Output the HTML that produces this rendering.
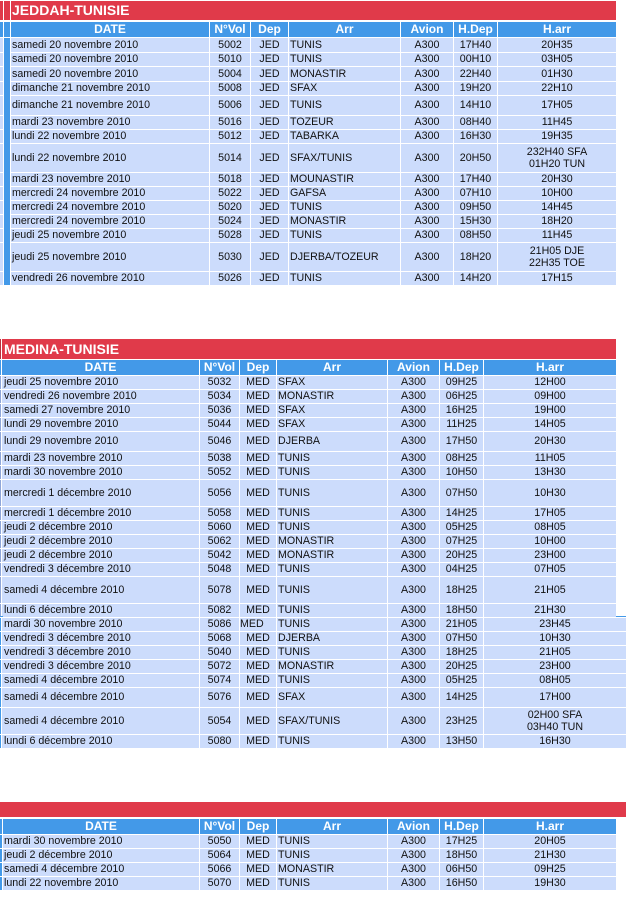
<!DOCTYPE html>
<html><head><meta charset="utf-8"><style>
body{margin:0;width:626px;height:914px;position:relative;background:#fff;overflow:hidden;font-family:"Liberation Sans",Arial,sans-serif}
.r{position:absolute;left:0;width:626px}
.r>span{position:absolute;top:0;height:100%;background:#ccdcfc;color:#111;font-size:10.67px;line-height:12.5px;display:flex;align-items:center;justify-content:center;text-align:center;white-space:nowrap;overflow:hidden}
.r>span.l{justify-content:flex-start;padding-left:1px;box-sizing:border-box}
.r>span em{font-style:normal;display:block}
.h>span{background:#4399e8;color:#fff;font-weight:bold;font-size:12px}
.t>span{background:#e03a4a;color:#fff;font-weight:bold;font-size:14px}
.T1 .a{left:0;width:3px}.T1 .b{left:4px;width:6px}.T1 .d{left:11px;width:198px}.T1 .v{left:210px;width:40px}.T1 .p{left:251px;width:37px}.T1 .x{left:289px;width:111px}.T1 .m{left:401px;width:52px}.T1 .k{left:454px;width:43px}.T1 .z{left:498px;width:118px}
.T2 .e{left:0;width:1px;background:#8fa6d8}.T2 .d{left:2px;width:197px}.T2 .v{left:200px;width:39px}.T2 .p{left:240px;width:36px}.T2 .x{left:277px;width:110px}.T2 .m{left:388px;width:51px}.T2 .k{left:440px;width:43px}.T2 .z{left:484px;width:132px}
.T2 .d.l{padding-left:2px}
.T2 .zz{left:484px;width:142px}
.T2 .eb{left:0;width:1px;background:#4399e8}
.T3 .e{left:0;width:2px;background:#4399e8}.T3 .d{left:3px;width:196px}.T3 .v{left:200px;width:39px}.T3 .p{left:240px;width:36px}.T3 .x{left:277px;width:110px}.T3 .m{left:388px;width:51px}.T3 .k{left:440px;width:43px}.T3 .z{left:484px;width:132px}
.T3 .d.l{padding-left:1px}
.pl{justify-content:flex-start!important}
</style></head><body>

<!-- TABLE 1 -->
<div class="r t T1" style="top:1px;height:19px"><span class="a"></span><span class="b"></span><span class="d l" style="width:605px">JEDDAH-TUNISIE</span></div>
<div class="r h T1" style="top:22px;height:15px"><span class="a"></span><span class="b"></span><span class="d">DATE</span><span class="v">N°Vol</span><span class="p">Dep</span><span class="x">Arr</span><span class="m">Avion</span><span class="k">H.Dep</span><span class="z">H.arr</span></div>
<div style="position:absolute;left:4px;top:38px;width:6px;height:247px;background:#4399e8"></div>

<div class="r T1" style="top:38px;height:14px"><span class="a"></span><span class="d l">samedi 20 novembre 2010</span><span class="v">5002</span><span class="p">JED</span><span class="x l">TUNIS</span><span class="m">A300</span><span class="k">17H40</span><span class="z">20H35</span></div>
<div class="r T1" style="top:53px;height:13px"><span class="a"></span><span class="d l">samedi 20 novembre 2010</span><span class="v">5010</span><span class="p">JED</span><span class="x l">TUNIS</span><span class="m">A300</span><span class="k">00H10</span><span class="z">03H05</span></div>
<div class="r T1" style="top:67px;height:14px"><span class="a"></span><span class="d l">samedi 20 novembre 2010</span><span class="v">5004</span><span class="p">JED</span><span class="x l">MONASTIR</span><span class="m">A300</span><span class="k">22H40</span><span class="z">01H30</span></div>
<div class="r T1" style="top:82px;height:13px"><span class="a"></span><span class="d l">dimanche 21 novembre 2010</span><span class="v">5008</span><span class="p">JED</span><span class="x l">SFAX</span><span class="m">A300</span><span class="k">19H20</span><span class="z">22H10</span></div>
<div class="r T1" style="top:96px;height:19px"><span class="a"></span><span class="d l">dimanche 21 novembre 2010</span><span class="v">5006</span><span class="p">JED</span><span class="x l">TUNIS</span><span class="m">A300</span><span class="k">14H10</span><span class="z">17H05</span></div>
<div class="r T1" style="top:116px;height:13px"><span class="a"></span><span class="d l">mardi 23 novembre 2010</span><span class="v">5016</span><span class="p">JED</span><span class="x l">TOZEUR</span><span class="m">A300</span><span class="k">08H40</span><span class="z">11H45</span></div>
<div class="r T1" style="top:130px;height:13px"><span class="a"></span><span class="d l">lundi 22 novembre 2010</span><span class="v">5012</span><span class="p">JED</span><span class="x l">TABARKA</span><span class="m">A300</span><span class="k">16H30</span><span class="z">19H35</span></div>
<div class="r T1" style="top:144px;height:28px"><span class="a"></span><span class="d l">lundi 22 novembre 2010</span><span class="v">5014</span><span class="p">JED</span><span class="x l">SFAX/TUNIS</span><span class="m">A300</span><span class="k">20H50</span><span class="z"><em>232H40 SFA<br>01H20 TUN</em></span></div>
<div class="r T1" style="top:173px;height:13px"><span class="a"></span><span class="d l">mardi 23 novembre 2010</span><span class="v">5018</span><span class="p">JED</span><span class="x l">MOUNASTIR</span><span class="m">A300</span><span class="k">17H40</span><span class="z">20H30</span></div>
<div class="r T1" style="top:187px;height:13px"><span class="a"></span><span class="d l">mercredi 24 novembre 2010</span><span class="v">5022</span><span class="p">JED</span><span class="x l">GAFSA</span><span class="m">A300</span><span class="k">07H10</span><span class="z">10H00</span></div>
<div class="r T1" style="top:201px;height:13px"><span class="a"></span><span class="d l">mercredi 24 novembre 2010</span><span class="v">5020</span><span class="p">JED</span><span class="x l">TUNIS</span><span class="m">A300</span><span class="k">09H50</span><span class="z">14H45</span></div>
<div class="r T1" style="top:215px;height:13px"><span class="a"></span><span class="d l">mercredi 24 novembre 2010</span><span class="v">5024</span><span class="p">JED</span><span class="x l">MONASTIR</span><span class="m">A300</span><span class="k">15H30</span><span class="z">18H20</span></div>
<div class="r T1" style="top:229px;height:13px"><span class="a"></span><span class="d l">jeudi 25 novembre 2010</span><span class="v">5028</span><span class="p">JED</span><span class="x l">TUNIS</span><span class="m">A300</span><span class="k">08H50</span><span class="z">11H45</span></div>
<div class="r T1" style="top:243px;height:28px"><span class="a"></span><span class="d l">jeudi 25 novembre 2010</span><span class="v">5030</span><span class="p">JED</span><span class="x l">DJERBA/TOZEUR</span><span class="m">A300</span><span class="k">18H20</span><span class="z"><em>21H05 DJE<br>22H35 TOE</em></span></div>
<div class="r T1" style="top:272px;height:13px"><span class="a"></span><span class="d l">vendredi 26 novembre 2010</span><span class="v">5026</span><span class="p">JED</span><span class="x l">TUNIS</span><span class="m">A300</span><span class="k">14H20</span><span class="z">17H15</span></div>

<!-- TABLE 2 -->
<div class="r t T2" style="top:339px;height:20px"><span class="e" style="background:#b8323f"></span><span class="d l" style="width:614px;padding-left:2px">MEDINA-TUNISIE</span></div>
<div class="r h T2" style="top:360px;height:15px"><span class="e" style="background:#4399e8"></span><span class="d">DATE</span><span class="v">N°Vol</span><span class="p">Dep</span><span class="x">Arr</span><span class="m">Avion</span><span class="k">H.Dep</span><span class="z">H.arr</span></div>

<div class="r T2" style="top:376px;height:13px"><span class="e"></span><span class="d l">jeudi 25 novembre 2010</span><span class="v">5032</span><span class="p">MED</span><span class="x l">SFAX</span><span class="m">A300</span><span class="k">09H25</span><span class="z">12H00</span></div>
<div class="r T2" style="top:390px;height:13px"><span class="e"></span><span class="d l">vendredi 26 novembre 2010</span><span class="v">5034</span><span class="p">MED</span><span class="x l">MONASTIR</span><span class="m">A300</span><span class="k">06H25</span><span class="z">09H00</span></div>
<div class="r T2" style="top:404px;height:13px"><span class="e"></span><span class="d l">samedi 27 novembre 2010</span><span class="v">5036</span><span class="p">MED</span><span class="x l">SFAX</span><span class="m">A300</span><span class="k">16H25</span><span class="z">19H00</span></div>
<div class="r T2" style="top:418px;height:13px"><span class="e"></span><span class="d l">lundi 29 novembre 2010</span><span class="v">5044</span><span class="p">MED</span><span class="x l">SFAX</span><span class="m">A300</span><span class="k">11H25</span><span class="z">14H05</span></div>
<div class="r T2" style="top:432px;height:19px"><span class="e"></span><span class="d l">lundi 29 novembre 2010</span><span class="v">5046</span><span class="p">MED</span><span class="x l">DJERBA</span><span class="m">A300</span><span class="k">17H50</span><span class="z">20H30</span></div>
<div class="r T2" style="top:452px;height:13px"><span class="e"></span><span class="d l">mardi 23 novembre 2010</span><span class="v">5038</span><span class="p">MED</span><span class="x l">TUNIS</span><span class="m">A300</span><span class="k">08H25</span><span class="z">11H05</span></div>
<div class="r T2" style="top:466px;height:13px"><span class="e"></span><span class="d l">mardi 30 novembre 2010</span><span class="v">5052</span><span class="p">MED</span><span class="x l">TUNIS</span><span class="m">A300</span><span class="k">10H50</span><span class="z">13H30</span></div>
<div class="r T2" style="top:480px;height:26px"><span class="e"></span><span class="d l">mercredi 1 décembre 2010</span><span class="v">5056</span><span class="p">MED</span><span class="x l">TUNIS</span><span class="m">A300</span><span class="k">07H50</span><span class="z">10H30</span></div>
<div class="r T2" style="top:507px;height:13px"><span class="e"></span><span class="d l">mercredi 1 décembre 2010</span><span class="v">5058</span><span class="p">MED</span><span class="x l">TUNIS</span><span class="m">A300</span><span class="k">14H25</span><span class="z">17H05</span></div>
<div class="r T2" style="top:521px;height:13px"><span class="e"></span><span class="d l">jeudi 2 décembre 2010</span><span class="v">5060</span><span class="p">MED</span><span class="x l">TUNIS</span><span class="m">A300</span><span class="k">05H25</span><span class="z">08H05</span></div>
<div class="r T2" style="top:535px;height:13px"><span class="e"></span><span class="d l">jeudi 2 décembre 2010</span><span class="v">5062</span><span class="p">MED</span><span class="x l">MONASTIR</span><span class="m">A300</span><span class="k">07H25</span><span class="z">10H00</span></div>
<div class="r T2" style="top:549px;height:13px"><span class="e"></span><span class="d l">jeudi 2 décembre 2010</span><span class="v">5042</span><span class="p">MED</span><span class="x l">MONASTIR</span><span class="m">A300</span><span class="k">20H25</span><span class="z">23H00</span></div>
<div class="r T2" style="top:563px;height:13px"><span class="e"></span><span class="d l">vendredi 3 décembre 2010</span><span class="v">5048</span><span class="p">MED</span><span class="x l">TUNIS</span><span class="m">A300</span><span class="k">04H25</span><span class="z">07H05</span></div>
<div class="r T2" style="top:577px;height:26px"><span class="e"></span><span class="d l">samedi 4 décembre 2010</span><span class="v">5078</span><span class="p">MED</span><span class="x l">TUNIS</span><span class="m">A300</span><span class="k">18H25</span><span class="z">21H05</span></div>
<div class="r T2" style="top:604px;height:13px"><span class="e"></span><span class="d l">lundi 6 décembre 2010</span><span class="v">5082</span><span class="p">MED</span><span class="x l">TUNIS</span><span class="m">A300</span><span class="k">18H50</span><span class="z">21H30</span></div>
<div style="position:absolute;left:616px;top:616px;width:10px;height:1px;background:#4399e8"></div>
<div style="position:absolute;left:0;top:616px;width:3px;height:1px;background:#4399e8"></div>
<div class="r T2" style="top:618px;height:13px"><span class="eb"></span><span class="d l">mardi 30 novembre 2010</span><span class="v">5086</span><span class="p pl">MED</span><span class="x l">TUNIS</span><span class="m">A300</span><span class="k">21H05</span><span class="zz">23H45</span></div>
<div class="r T2" style="top:632px;height:13px"><span class="eb"></span><span class="d l">vendredi 3 décembre 2010</span><span class="v">5068</span><span class="p">MED</span><span class="x l">DJERBA</span><span class="m">A300</span><span class="k">07H50</span><span class="zz">10H30</span></div>
<div class="r T2" style="top:646px;height:13px"><span class="eb"></span><span class="d l">vendredi 3 décembre 2010</span><span class="v">5040</span><span class="p">MED</span><span class="x l">TUNIS</span><span class="m">A300</span><span class="k">18H25</span><span class="zz">21H05</span></div>
<div class="r T2" style="top:660px;height:13px"><span class="eb"></span><span class="d l">vendredi 3 décembre 2010</span><span class="v">5072</span><span class="p">MED</span><span class="x l">MONASTIR</span><span class="m">A300</span><span class="k">20H25</span><span class="zz">23H00</span></div>
<div class="r T2" style="top:674px;height:13px"><span class="eb"></span><span class="d l">samedi 4 décembre 2010</span><span class="v">5074</span><span class="p">MED</span><span class="x l">TUNIS</span><span class="m">A300</span><span class="k">05H25</span><span class="zz">08H05</span></div>
<div class="r T2" style="top:688px;height:19px"><span class="eb"></span><span class="d l">samedi 4 décembre 2010</span><span class="v">5076</span><span class="p">MED</span><span class="x l">SFAX</span><span class="m">A300</span><span class="k">14H25</span><span class="zz">17H00</span></div>
<div class="r T2" style="top:708px;height:26px"><span class="eb"></span><span class="d l">samedi 4 décembre 2010</span><span class="v">5054</span><span class="p">MED</span><span class="x l">SFAX/TUNIS</span><span class="m">A300</span><span class="k">23H25</span><span class="zz"><em>02H00 SFA<br>03H40 TUN</em></span></div>
<div class="r T2" style="top:735px;height:13px"><span class="eb"></span><span class="d l">lundi 6 décembre 2010</span><span class="v">5080</span><span class="p">MED</span><span class="x l">TUNIS</span><span class="m">A300</span><span class="k">13H50</span><span class="zz">16H30</span></div>

<!-- TABLE 3 -->
<div class="r t T3" style="top:802px;height:15px"><span style="left:0;width:626px"></span></div>
<div class="r h T3" style="top:819px;height:15px"><span class="e"></span><span class="d">DATE</span><span class="v">N°Vol</span><span class="p">Dep</span><span class="x">Arr</span><span class="m">Avion</span><span class="k">H.Dep</span><span class="z">H.arr</span></div>
<div class="r T3" style="top:835px;height:13px"><span class="e"></span><span class="d l">mardi 30 novembre 2010</span><span class="v">5050</span><span class="p">MED</span><span class="x l">TUNIS</span><span class="m">A300</span><span class="k">17H25</span><span class="z">20H05</span></div>
<div class="r T3" style="top:849px;height:13px"><span class="e"></span><span class="d l">jeudi 2 décembre 2010</span><span class="v">5064</span><span class="p">MED</span><span class="x l">TUNIS</span><span class="m">A300</span><span class="k">18H50</span><span class="z">21H30</span></div>
<div class="r T3" style="top:863px;height:13px"><span class="e"></span><span class="d l">samedi 4 décembre 2010</span><span class="v">5066</span><span class="p">MED</span><span class="x l">MONASTIR</span><span class="m">A300</span><span class="k">06H50</span><span class="z">09H25</span></div>
<div class="r T3" style="top:877px;height:13px"><span class="e"></span><span class="d l">lundi 22 novembre 2010</span><span class="v">5070</span><span class="p">MED</span><span class="x l">TUNIS</span><span class="m">A300</span><span class="k">16H50</span><span class="z">19H30</span></div>

</body></html>
